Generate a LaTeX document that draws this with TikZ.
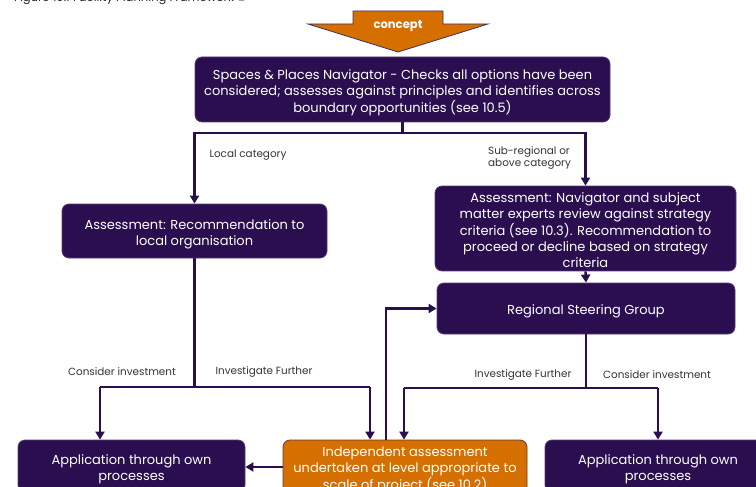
\documentclass[tikz,border=0pt]{standalone}
\usepackage{fontspec}
\setmainfont{Poppins}
\usetikzlibrary{arrows.meta,calc}
\definecolor{navy}{HTML}{2A0E4F}
\definecolor{orng}{HTML}{D57000}
\definecolor{lbl}{HTML}{333333}
\newcommand\boxtext[1]{\raisebox{-3.2pt}[\height][\depth]{\begin{tabular}{@{}c@{}}#1\end{tabular}}}
\begin{document}
\begin{tikzpicture}[x=1pt,y=-1pt,
  box/.style={draw=navy!80!white,line width=0.8pt,fill=navy,rounded corners=7pt,text=white,font=\fontsize{13}{16}\selectfont,inner sep=2pt},
  obox/.style={box,fill=orng,draw=navy!60!orng},
  conn/.style={draw=navy,line width=2.4pt},
  arr/.style={conn,-{Triangle[length=8pt,width=9pt]}},
  lab/.style={text=lbl,font=\fontsize{10.4}{12.5}\selectfont,inner sep=0pt}]
\useasboundingbox (0,0) rectangle (756,487);
\clip (0,0) rectangle (756,487);
% title
\node[anchor=west,text=black!85,font=\fontsize{11.6}{13}\selectfont,inner sep=0pt] (title) at (14,-1) {Figure 10.1 Facility Planning Framework ©};
% concept arrow
\draw[fill=orng,draw=navy!70!gray,line width=0.8pt] (353,11) -- (443,11) -- (443,24) -- (488,24) -- (398,52) -- (308,24) -- (353,24) -- cycle;
\node[text=white,font=\fontsize{11.6}{13}\bfseries\selectfont] (concept) at (398,26.5) {concept};
% boxes
\node[box,minimum width=415pt,minimum height=65pt] (top) at (402.5,89.5) {\boxtext{Spaces \& Places Navigator - Checks all options have been\\considered; assesses against principles and identifies across\\boundary opportunities (see 10.5)}};
\node[box,minimum width=265pt,minimum height=54pt] (lass) at (194.5,231) {\boxtext{Assessment: Recommendation to\\local organisation}};
\node[box,minimum width=301pt,minimum height=79pt] (rass) at (585.5,228.5) {\boxtext{Assessment: Navigator and subject\\matter experts review against strategy\\criteria (see 10.3). Recommendation to\\proceed or decline based on strategy\\criteria}};
\node[box,minimum width=298pt,minimum height=51pt] (rsg) at (586,308.5) {\boxtext{Regional Steering Group}};
\node[box,minimum width=227pt,minimum height=52pt] (lapp) at (131.5,466) {\boxtext{Application through own\\processes}};
\node[obox,minimum width=244pt,minimum height=54pt] (ind) at (405,467) {\boxtext{Independent assessment\\undertaken at level appropriate to\\scale of project (see 10.2)}};
\node[box,minimum width=226pt,minimum height=52pt] (rapp) at (658,466) {\boxtext{Application through own\\processes}};
% coordinates
\coordinate (tj) at (402.5,133);
\coordinate (la) at (100,387);
\coordinate (lb) at (370,387);
\coordinate (ua) at (386,309);
\coordinate (ra) at (404,388);
\coordinate (rb) at (658,388);
% connectors
\draw[conn] (top.south) -- (tj);
\draw[arr] (tj) -| (lass.north);
\draw[arr] (tj) -| (rass.north);
\draw[arr] (rass.south) -- (rsg.north);
\draw[conn] (lass.south) |- (la);
\draw[arr] (la) -- (la |- lapp.north);
\draw[conn] (lass.south) |- (lb);
\draw[arr] (lb) -- (lb |- ind.north);
\draw[arr] (ind.west) -- (ind.west -| lapp.east);
\draw[arr] (ua |- ind.north) |- (rsg.west);
\draw[conn] (rsg.south) |- (ra);
\draw[arr] (ra) -- (ra |- ind.north);
\draw[conn] (rsg.south) |- (rb);
\draw[arr] (rb) -- (rb |- rapp.north);
% labels
\node[lab] (l1) at (248,155) {Local category};
\node[lab,anchor=west,align=left] (l2) at (488,158) {Sub-regional or\\above category};
\node[lab] (l3) at (122,372) {Consider investment};
\node[lab] (l4) at (264,372) {Investigate Further};
\node[lab] (l5) at (523,375) {Investigate Further};
\node[lab] (l6) at (657,375) {Consider investment};
\end{tikzpicture}
\end{document}
